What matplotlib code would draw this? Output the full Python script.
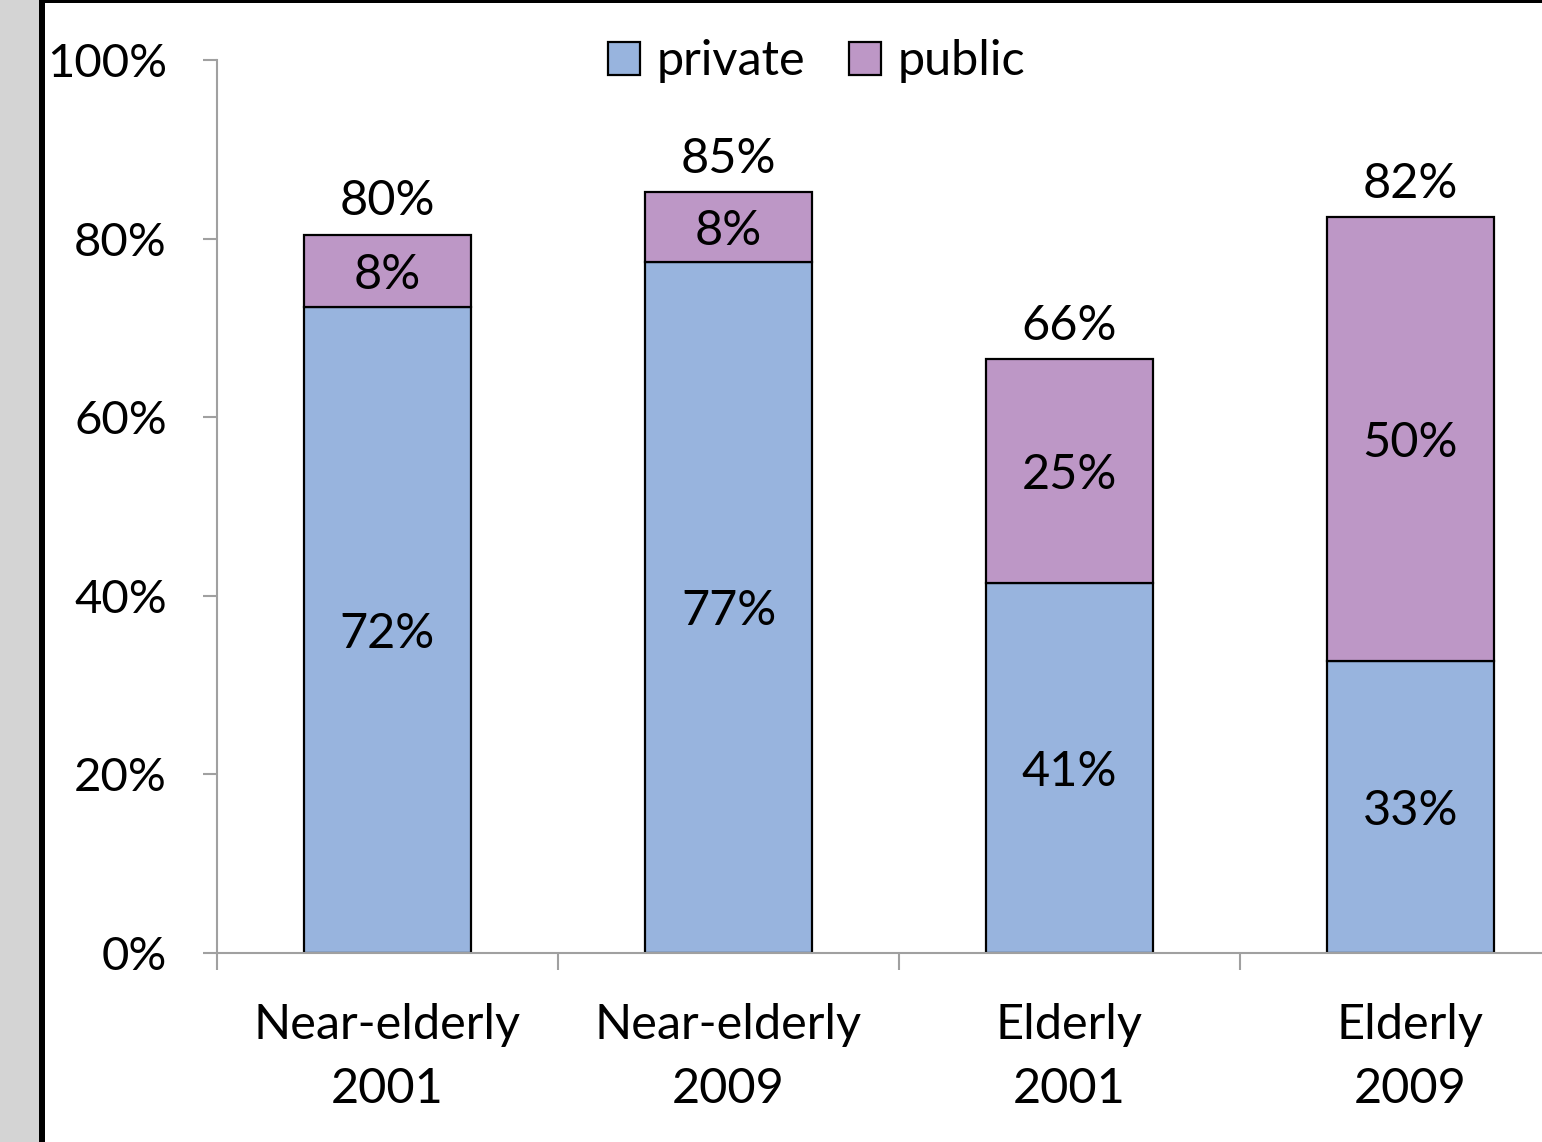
import matplotlib
matplotlib.use("Agg")
from matplotlib import pyplot as plt
from matplotlib.patches import Rectangle

categories = ["Near-elderly\n2001", "Near-elderly\n2009", "Elderly\n2001", "Elderly\n2009"]
private = [72.3, 77.4, 41.4, 32.7]
public = [8.1, 7.8, 25.1, 49.7]
private_labels = ["72%", "77%", "41%", "33%"]
public_labels = ["8%", "8%", "25%", "50%"]
total_labels = ["80%", "85%", "66%", "82%"]
yticks = [0, 20, 40, 60, 80, 100]

plt.rcParams["font.family"] = ["Lato", "DejaVu Sans"]

W, H = 1542, 1142
fig = plt.figure(figsize=(W / 100, H / 100), dpi=100)

# gray strip on the left and black frame lines
fig.patches.append(Rectangle((0, 0), 40 / W, 1, transform=fig.transFigure,
                             facecolor="#d4d4d4", edgecolor="none", zorder=0))
fig.patches.append(Rectangle((39 / W, 0), 6 / W, 1, transform=fig.transFigure,
                             facecolor="black", edgecolor="none", zorder=1))
fig.patches.append(Rectangle((40 / W, 1 - 3 / H), 1, 3 / H, transform=fig.transFigure,
                             facecolor="black", edgecolor="none", zorder=1))

ax = fig.add_axes([217 / W, 1 - 953 / H, 1364 / W, 893 / H])
x = range(len(categories))
bw = 0.49
ax.bar(x, private, bw, color="#98b4de", edgecolor="black", linewidth=1.6, label="private")
ax.bar(x, public, bw, bottom=private, color="#bd97c6", edgecolor="black", linewidth=1.6, label="public")

fs = 35
for i in x:
    ax.text(i, private[i] / 2 - 0.4, private_labels[i], ha="center", va="center", fontsize=fs)
    ax.text(i, private[i] + public[i] / 2 - 0.4, public_labels[i], ha="center", va="center", fontsize=fs)
    ax.text(i, private[i] + public[i] + 1.3, total_labels[i], ha="center", va="bottom", fontsize=fs)

ax.set_xlim(-0.5, 3.5)
ax.set_ylim(0, 100)
ax.set_yticks(yticks)
ax.set_yticklabels([f"{v}%" for v in yticks], fontsize=34)
ax.set_xticks(x)
ax.set_xticklabels(categories, fontsize=fs, linespacing=1.55)
ax.tick_params(axis="x", length=0, pad=36)
ax.tick_params(axis="y", length=10, width=1.5, color="#a0a0a0", pad=26)
ax.set_xticks([-0.5, 0.5, 1.5, 2.5, 3.5], minor=True)
ax.tick_params(axis="x", which="minor", length=12, width=1.5, color="#a0a0a0")

for s in ["top", "right"]:
    ax.spines[s].set_visible(False)
for s in ["left", "bottom"]:
    ax.spines[s].set_color("#a0a0a0")
    ax.spines[s].set_linewidth(1.5)

ax.legend(loc="upper center", bbox_to_anchor=(600 / 1364, 1.072), ncol=2, frameon=False,
          fontsize=fs, handlelength=0.65, handleheight=0.65, handletextpad=0.35,
          columnspacing=0.9)

fig.savefig("out.png", dpi=100)
